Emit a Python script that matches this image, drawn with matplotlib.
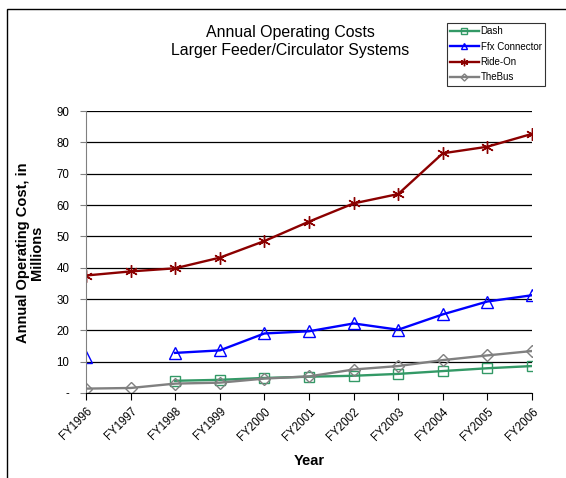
import numpy as np
from matplotlib import pyplot as plt
from matplotlib.patches import Rectangle

plt.rcParams['font.family'] = ['Liberation Sans', 'DejaVu Sans']

years = ["FY1996", "FY1997", "FY1998", "FY1999", "FY2000", "FY2001",
         "FY2002", "FY2003", "FY2004", "FY2005", "FY2006"]
nan = np.nan
dash = [nan, nan, 3.9, 4.2, 4.8, 5.2, 5.5, 6.1, 7.0, 7.9, 8.6]
ffx = [11.5, nan, 12.8, 13.6, 19.0, 19.7, 22.2, 20.2, 25.1, 29.2, 31.2]
ride_on = [37.5, 38.8, 39.8, 43.2, 48.5, 54.7, 60.5, 63.5, 76.5, 78.6, 82.7]
thebus = [1.4, 1.6, 3.0, 3.3, 4.6, 5.3, 7.5, 8.6, 10.5, 12.0, 13.4]
yticks = [0, 10, 20, 30, 40, 50, 60, 70, 80, 90]
ytick_labels = ["-", "10", "20", "30", "40", "50", "60", "70", "80", "90"]

W, H = 566, 478
fig = plt.figure(figsize=(W / 100, H / 100), dpi=100)
# outer chart frame (only left/top edges fall inside the picture)
fig.patches.append(Rectangle((7 / W, -0.1), 1.2, 1 - 9 / H + 0.1, transform=fig.transFigure,
                             fill=False, edgecolor='black', linewidth=1.0))

ax = fig.add_axes([86 / W, 1 - 393 / H, 446 / W, 282 / H])
x = np.arange(len(years))

ax.plot(x, dash, color='#339966', lw=1.7, marker='s', ms=7.5, mfc='none', mew=1.0, label='Dash')
ax.plot(x, ffx, color='#0000FF', lw=1.7, marker='^', ms=8, mfc='none', mew=1.0, label='Ffx Connector')
ax.plot(x, ride_on, color='#8B0000', lw=1.7, marker=(6, 2, 0), ms=9, mew=1.0, label='Ride-On')
ax.plot(x, thebus, color='#808080', lw=1.7, marker='D', ms=6, mfc='none', mew=1.0, label='TheBus')

ax.set_xlim(0, len(years) - 1)
ax.set_ylim(0, 90)
ax.set_yticks(yticks)
ax.set_yticklabels(ytick_labels, fontsize=8.3)
ax.set_xticks(x)
ax.set_xticklabels(years, fontsize=8.3, rotation=45, ha='right', rotation_mode='anchor')
ax.yaxis.grid(True, color='black', lw=0.9)
ax.set_axisbelow(True)
for s in ['top', 'right']:
    ax.spines[s].set_visible(False)
ax.spines['left'].set_color('#808080')
ax.spines['bottom'].set_color('black')
ax.tick_params(axis='y', length=4, color='#808080', pad=8)
ax.tick_params(axis='x', length=5, color='black', pad=4)

ax.set_xlabel("Year", fontsize=10.5, fontweight='bold', labelpad=8)
fig.text(30 / W, 1 - 253 / H, "Annual Operating Cost, in\nMillions", rotation=90,
         fontsize=10.5, fontweight='bold', ha='center', va='center', linespacing=1.0)

fig.text(290 / W, 1 - 33 / H, "Annual Operating Costs", fontsize=11.4, ha='center', va='center')
fig.text(290 / W, 1 - 51 / H, "Larger Feeder/Circulator Systems", fontsize=11.4, ha='center', va='center')

leg = fig.legend(loc='upper left', bbox_to_anchor=(447 / W, 1 - 23 / H), fontsize=7,
                 frameon=True, fancybox=False, edgecolor='black', borderpad=0.35,
                 labelspacing=0.55, handlelength=2.9, handletextpad=0.2, borderaxespad=0,
                 markerscale=0.6)
leg.get_frame().set_linewidth(0.8)

plt.savefig("out.png", dpi=100)
